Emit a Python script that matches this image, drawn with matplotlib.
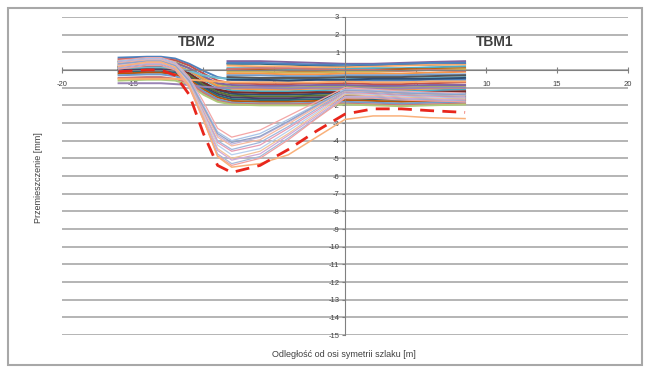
import matplotlib
matplotlib.use("Agg")
import matplotlib.pyplot as plt
from matplotlib.patches import Rectangle

plt.rcParams['font.family'] = ['Liberation Sans', 'DejaVu Sans']
plt.rcParams['axes.unicode_minus'] = False

# x positions of the measurement points [m]
x_full = [-16, -14, -13, -12, -11, -10, -9, -8, -6, -4, -2, 0, 2, 4, 6, 8.5]
x_half = [-8.3, -6, -4, -2, 0, 2, 4, 6, 8.5]

# short series (from -8.3 m), nearly flat
flat_series = [
    [0.50, 0.50, 0.45, 0.40, 0.35, 0.35, 0.40, 0.45, 0.50],
    [0.35, 0.35, 0.30, 0.25, 0.20, 0.25, 0.30, 0.30, 0.35],
    [0.25, 0.20, 0.20, 0.15, 0.15, 0.20, 0.25, 0.30, 0.30],
    [0.10, 0.10, 0.05, 0.05, 0.05, 0.10, 0.10, 0.15, 0.20],
    [0.00, 0.00, -0.05, -0.05, -0.05, 0.00, 0.05, 0.05, 0.10],
    [-0.10, -0.10, -0.15, -0.15, -0.10, -0.10, -0.05, 0.00, 0.05],
    [-0.20, -0.20, -0.25, -0.25, -0.20, -0.20, -0.20, -0.15, -0.10],
    [-0.30, -0.30, -0.35, -0.35, -0.30, -0.30, -0.30, -0.25, -0.25],
    [-0.40, -0.45, -0.45, -0.45, -0.40, -0.40, -0.40, -0.35, -0.30],
    [-0.55, -0.55, -0.60, -0.55, -0.55, -0.50, -0.50, -0.50, -0.45],
    [0.05, 0.10, 0.10, 0.05, 0.00, 0.00, -0.05, 0.00, -0.05],
    [0.40, 0.40, 0.35, 0.30, 0.30, 0.30, 0.35, 0.40, 0.40],
]

# full series with a small step near TBM2
step_series = [
    [0.70, 0.75, 0.75, 0.65, 0.35, -0.05, -0.40, -0.55, -0.60, -0.60, -0.55, -0.55, -0.60, -0.60, -0.55, -0.55],
    [0.60, 0.65, 0.65, 0.55, 0.25, -0.20, -0.60, -0.75, -0.80, -0.80, -0.75, -0.75, -0.80, -0.80, -0.75, -0.70],
    [0.50, 0.55, 0.55, 0.45, 0.10, -0.40, -0.80, -0.95, -1.00, -1.00, -0.95, -0.90, -0.95, -1.00, -0.95, -0.90],
    [0.45, 0.50, 0.50, 0.40, 0.10, -0.35, -0.75, -0.85, -0.90, -0.90, -0.85, -0.85, -0.90, -0.90, -0.85, -0.85],
    [0.35, 0.40, 0.40, 0.30, -0.05, -0.55, -0.95, -1.15, -1.20, -1.20, -1.15, -1.10, -1.15, -1.20, -1.15, -1.10],
    [0.30, 0.35, 0.35, 0.25, -0.05, -0.50, -0.90, -1.05, -1.10, -1.10, -1.05, -1.05, -1.10, -1.10, -1.05, -1.00],
    [0.20, 0.25, 0.25, 0.15, -0.20, -0.75, -1.15, -1.35, -1.40, -1.40, -1.35, -1.30, -1.35, -1.40, -1.35, -1.30],
    [0.15, 0.20, 0.20, 0.10, -0.20, -0.70, -1.10, -1.25, -1.30, -1.30, -1.25, -1.25, -1.30, -1.30, -1.25, -1.20],
    [0.05, 0.10, 0.10, 0.00, -0.30, -0.85, -1.25, -1.45, -1.50, -1.50, -1.45, -1.40, -1.45, -1.50, -1.45, -1.40],
    [0.00, 0.05, 0.05, -0.05, -0.40, -0.95, -1.35, -1.55, -1.60, -1.60, -1.55, -1.50, -1.55, -1.60, -1.55, -1.50],
    [-0.10, -0.05, -0.05, -0.15, -0.45, -1.00, -1.45, -1.65, -1.70, -1.70, -1.65, -1.60, -1.65, -1.70, -1.65, -1.60],
    [-0.20, -0.15, -0.15, -0.25, -0.55, -1.10, -1.55, -1.75, -1.80, -1.80, -1.75, -1.70, -1.75, -1.80, -1.75, -1.70],
    [-0.30, -0.25, -0.25, -0.35, -0.65, -1.20, -1.65, -1.85, -1.90, -1.90, -1.85, -1.80, -1.85, -1.90, -1.85, -1.80],
    [-0.45, -0.40, -0.40, -0.50, -0.75, -1.30, -1.75, -1.90, -1.95, -1.95, -1.90, -1.90, -1.95, -2.00, -1.95, -1.90],
    [-0.60, -0.55, -0.55, -0.60, -0.85, -1.40, -1.80, -1.95, -2.00, -2.00, -2.00, -1.95, -2.00, -2.05, -2.00, -1.95],
    [-0.75, -0.75, -0.75, -0.80, -0.85, -0.95, -1.00, -1.00, -1.00, -1.05, -1.00, -1.00, -1.05, -1.05, -1.00, -1.00],
    [0.10, 0.15, 0.15, 0.10, -0.05, -0.30, -0.45, -0.50, -0.50, -0.50, -0.45, -0.45, -0.50, -0.50, -0.45, -0.40],
    [-0.50, -0.50, -0.50, -0.50, -0.55, -0.60, -0.65, -0.70, -0.70, -0.70, -0.70, -0.65, -0.70, -0.70, -0.65, -0.65],
]

# deep trough series
trough_series = [
    [0.55, 0.70, 0.70, 0.45, -0.40, -1.80, -3.30, -3.80, -3.40, -2.60, -1.80, -1.00, -1.10, -1.20, -1.25, -1.30],
    [0.50, 0.65, 0.65, 0.40, -0.50, -2.00, -3.50, -4.00, -3.60, -2.80, -1.95, -1.10, -1.15, -1.25, -1.30, -1.35],
    [0.45, 0.60, 0.60, 0.35, -0.55, -2.10, -3.70, -4.20, -3.80, -2.95, -2.05, -1.15, -1.20, -1.30, -1.35, -1.40],
    [0.40, 0.55, 0.55, 0.30, -0.60, -2.20, -3.80, -4.30, -3.95, -3.05, -2.10, -1.20, -1.25, -1.35, -1.40, -1.45],
    [0.35, 0.50, 0.50, 0.25, -0.70, -2.35, -4.00, -4.50, -4.10, -3.20, -2.20, -1.25, -1.30, -1.40, -1.45, -1.50],
    [0.30, 0.45, 0.45, 0.20, -0.75, -2.40, -4.10, -4.60, -4.25, -3.30, -2.30, -1.30, -1.35, -1.45, -1.50, -1.55],
    [0.25, 0.45, 0.45, 0.20, -0.80, -2.50, -4.25, -4.80, -4.45, -3.45, -2.40, -1.35, -1.40, -1.50, -1.55, -1.60],
    [0.20, 0.40, 0.40, 0.15, -0.85, -2.60, -4.45, -5.00, -4.60, -3.60, -2.50, -1.40, -1.45, -1.55, -1.60, -1.65],
    [0.15, 0.35, 0.35, 0.10, -0.90, -2.70, -4.55, -5.10, -4.75, -3.70, -2.60, -1.50, -1.50, -1.60, -1.65, -1.70],
    [0.10, 0.30, 0.30, 0.05, -0.95, -2.80, -4.75, -5.30, -4.90, -3.85, -2.70, -1.55, -1.55, -1.65, -1.70, -1.75],
    [0.05, 0.25, 0.25, 0.00, -1.00, -2.85, -4.85, -5.40, -5.00, -3.95, -2.75, -1.60, -1.60, -1.70, -1.75, -1.80],
    [0.35, 0.50, 0.50, 0.25, -0.60, -2.10, -3.60, -4.10, -3.75, -2.90, -2.00, -1.15, -1.20, -1.30, -1.35, -1.40],
]
orange_series = [0.20, 0.45, 0.45, 0.15, -0.90, -2.80, -4.90, -5.50, -5.30, -4.80, -3.80, -2.80, -2.60, -2.60, -2.70, -2.75]
red_series = [-0.10, 0.00, 0.00, -0.30, -1.40, -3.60, -5.40, -5.80, -5.40, -4.50, -3.45, -2.50, -2.20, -2.20, -2.30, -2.40]

vivid = ['#4F81BD', '#C0504D', '#9BBB59', '#8064A2', '#4BACC6', '#F79646',
         '#2C4D75', '#772C2A', '#5F7530', '#4D3B62', '#276A7C', '#B65708',
         '#729ACA', '#CD7371', '#AFC97A', '#9983B5', '#6FBDD1', '#F9AB6B',
         '#C9B458', '#555555']
pastel = ['#F4A6A6', '#A9C4E8', '#C3B3DA', '#F7B9A0', '#9FB6DC', '#E89CB4',
          '#B8D0EE', '#F2C29A', '#D0A8D8', '#A6B8D8', '#F0A0A0', '#8FA3C8']

fig = plt.figure(figsize=(6.48, 3.69), dpi=100)
fig.patches.append(Rectangle((0.012, 0.012), 0.978, 0.965, transform=fig.transFigure,
                             fill=False, edgecolor='#a8a8a8', lw=1.5))
ax = fig.add_axes([0.0957, 0.092, 0.873, 0.862])

for yv in range(-15, 4):
    ax.axhline(yv, color='#a0a0a0', lw=1.1, zorder=1)

for i, s in enumerate(step_series):
    ax.plot(x_full, s, color=vivid[i % len(vivid)], lw=1.4, zorder=2)
for i, s in enumerate(flat_series):
    ax.plot(x_half, s, color=vivid[(i * 7 + 3) % len(vivid)], lw=1.4, zorder=2)
for i, s in enumerate(trough_series):
    ax.plot(x_full, s, color=pastel[i % len(pastel)], lw=0.9, zorder=3)
ax.plot(x_full, orange_series, color='#F9B07A', lw=1.1, zorder=3)
ax.plot(x_full, red_series, color='#E8261C', lw=2.0, ls=(0, (5, 3)), zorder=4)

ax.set_xlim(-20, 20)
ax.set_ylim(-15, 3)
ax.spines['top'].set_visible(False)
ax.spines['right'].set_visible(False)
ax.spines['left'].set_position(('data', 0))
ax.spines['bottom'].set_position(('data', 0))
ax.spines['left'].set_color('#808080')
ax.spines['bottom'].set_color('#808080')
ax.set_xticks(range(-20, 21, 5))
ax.set_yticks(range(-15, 4))
ax.tick_params(axis='x', direction='inout', length=4, width=0.8, color='#808080',
               labelsize=5.5, labelcolor='#404040', pad=6)
ax.tick_params(axis='y', direction='out', length=2, width=0.8, color='#808080',
               labelsize=5.5, labelcolor='#404040', pad=2)
ax.patch.set_alpha(0)

ax.text(-10.5, 1.6, 'TBM2', fontsize=10, fontweight='bold', color='#404040',
        ha='center', va='center')
ax.text(10.6, 1.6, 'TBM1', fontsize=10, fontweight='bold', color='#404040',
        ha='center', va='center')

fig.text(0.059, 0.52, 'Przemieszczenie [mm]', rotation=90, fontsize=6.5,
         color='#404040', ha='center', va='center')
fig.text(0.53, 0.038, 'Odległość od osi symetrii szlaku [m]', fontsize=6.5,
         color='#404040', ha='center', va='center')

fig.savefig('out.png', dpi=100)
